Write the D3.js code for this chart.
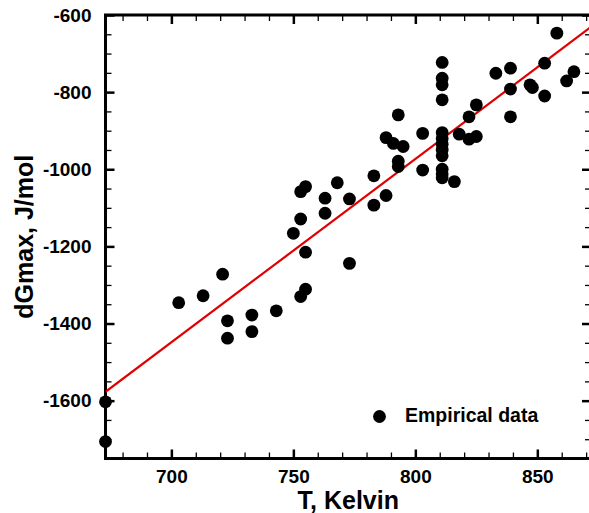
<!DOCTYPE html>
<html>
<head>
  <meta charset="utf-8">
  <title>dGmax vs T</title>
  <script src="https://d3js.org/d3.v7.min.js"></script>
  <style>
    body { margin: 0; background: #fff; }
    svg { display: block; }
    text { font-family: "Liberation Sans", Arial, sans-serif; font-weight: bold; }
  </style>
</head>
<body>
  <div id="container"></div>
  <script>
  // empirical points
  var tempK = [673, 673, 703, 713, 721, 723, 723, 733, 733, 743,
    753, 755, 755, 750, 753, 753, 755, 763, 763, 768,
    773, 773, 783, 783, 788, 788, 791, 795, 793, 793,
    793, 803, 803,
    811, 811, 811, 811, 811, 811, 811, 811, 811, 811, 811, 811,
    816, 818, 822, 825, 825, 822, 833, 839, 839, 839,
    847, 848, 853, 853, 858, 862, 865];
  var dGmax = [-1603, -1706, -1346, -1328, -1272, -1393, -1438, -1378, -1421, -1367,
    -1330, -1311, -1215, -1166, -1129, -1058, -1045, -1075, -1114, -1035,
    -1077, -1244, -1017, -1093, -1068, -918, -933, -941, -859, -979,
    -993, -907, -1002,
    -723, -764, -781, -820, -905, -920, -935, -950, -965, -1000, -1012, -1022,
    -1032, -909, -922, -915, -833, -864, -751, -738, -792, -864,
    -781, -788, -725, -810, -647, -771, -747];

  // linear fit (red line) end points
  var fitT = [673, 872];
  var fitG = [-1577, -631];

  var xMajor = [700, 750, 800, 850];
  var yMajor = [-1600, -1400, -1200, -1000, -800, -600];

  var width = 589,
    height = 513;
  var plot = { left: 105.5, right: 591, top: 15, bottom: 458.5 };

  var x = d3.scaleLinear().domain([673, 872]).range([plot.left, plot.right]);
  var y = d3.scaleLinear().domain([-1750, -600]).range([plot.bottom, plot.top]);

  var xMinor = d3.range(680, 872, 10).filter(function(v){ return v % 50 != 0; });
  var yMinor = d3.range(-1700, -600, 50).filter(function(v){ return v % 200 != 0; });

  // plain hyphen, no thousands comma
  var plain = function(d){ return String(d); };

  var svg = d3.select('#container')
    .append('svg')
    .attr('width', width)
    .attr('height', height)
    .style('background-color', '#fff');

  svg.append('defs').append('clipPath')
    .attr('id', 'clip')
    .append('rect')
    .attr('x', plot.left)
    .attr('y', plot.top)
    .attr('width', plot.right - plot.left)
    .attr('height', plot.bottom - plot.top);

  // ticks on all four sides, pointing inwards
  function ticks(axis, vals, size, w) {
    return function(g) {
      g.call(axis.tickValues(vals).tickSize(-size).tickSizeOuter(0));
      g.select('.domain').remove();
      g.selectAll('.tick line').attr('stroke', '#000').attr('stroke-width', w);
    };
  }

  svg.append('g')
    .attr('transform', 'translate(0,' + plot.bottom + ')')
    .call(ticks(d3.axisBottom(x).tickFormat('').tickPadding(0), xMinor, 6, 1.3));
  svg.append('g')
    .attr('transform', 'translate(0,' + plot.bottom + ')')
    .call(ticks(d3.axisBottom(x).tickFormat(plain).tickPadding(11.5), xMajor, 9, 2.5));
  svg.append('g')
    .attr('transform', 'translate(0,' + plot.top + ')')
    .call(ticks(d3.axisTop(x).tickFormat(''), xMinor, 6, 1.3));
  svg.append('g')
    .attr('transform', 'translate(0,' + plot.top + ')')
    .call(ticks(d3.axisTop(x).tickFormat(''), xMajor, 9, 2.5));

  svg.append('g')
    .attr('transform', 'translate(' + plot.left + ',0)')
    .call(ticks(d3.axisLeft(y).tickFormat(''), yMinor, 6, 1.3));
  svg.append('g')
    .attr('transform', 'translate(' + plot.left + ',0)')
    .call(ticks(d3.axisLeft(y).tickFormat(plain).tickPadding(14), yMajor, 9, 2.5));
  svg.append('g')
    .attr('transform', 'translate(' + plot.right + ',0)')
    .call(ticks(d3.axisRight(y).tickFormat(''), yMinor, 6, 1.3));
  svg.append('g')
    .attr('transform', 'translate(' + plot.right + ',0)')
    .call(ticks(d3.axisRight(y).tickFormat(''), yMajor, 9, 2.5));

  svg.selectAll('.tick text')
    .attr('fill', '#000')
    .style('font-size', '19px')
    .style('font-family', '"Liberation Sans", Arial, sans-serif')
    .style('font-weight', 'bold');

  // frame
  svg.append('rect')
    .attr('x', plot.left)
    .attr('y', plot.top)
    .attr('width', plot.right - plot.left)
    .attr('height', plot.bottom - plot.top)
    .attr('fill', 'none')
    .attr('stroke', '#000')
    .attr('stroke-width', 3);

  // fit line
  svg.append('line')
    .attr('clip-path', 'url(#clip)')
    .attr('x1', x(fitT[0]))
    .attr('y1', y(fitG[0]))
    .attr('x2', x(fitT[1]))
    .attr('y2', y(fitG[1]))
    .attr('stroke', '#e00000')
    .attr('stroke-width', 2.2);

  svg.append('g')
    .selectAll('circle')
    .data(tempK)
    .enter()
    .append('circle')
    .attr('cx', function(d){ return x(d); })
    .attr('cy', function(d, i){ return y(dGmax[i]); })
    .attr('r', 6.4)
    .attr('fill', '#000');

  // legend
  svg.append('circle')
    .attr('cx', 379.5)
    .attr('cy', 416.5)
    .attr('r', 6.4)
    .attr('fill', '#000');
  svg.append('text')
    .text('Empirical data')
    .attr('x', 405)
    .attr('y', 422)
    .style('font-size', '19.5px');

  // axis titles
  svg.append('text')
    .text('T, Kelvin')
    .attr('x', (plot.left + plot.right) / 2)
    .attr('y', 508.5)
    .style('text-anchor', 'middle')
    .style('font-size', '25px');

  svg.append('text')
    .text('dGmax, J/mol')
    .attr('transform', 'translate(33,' + ((plot.top + plot.bottom) / 2) + ') rotate(-90)')
    .style('text-anchor', 'middle')
    .style('font-size', '25px');
  </script>
</body>
</html>
